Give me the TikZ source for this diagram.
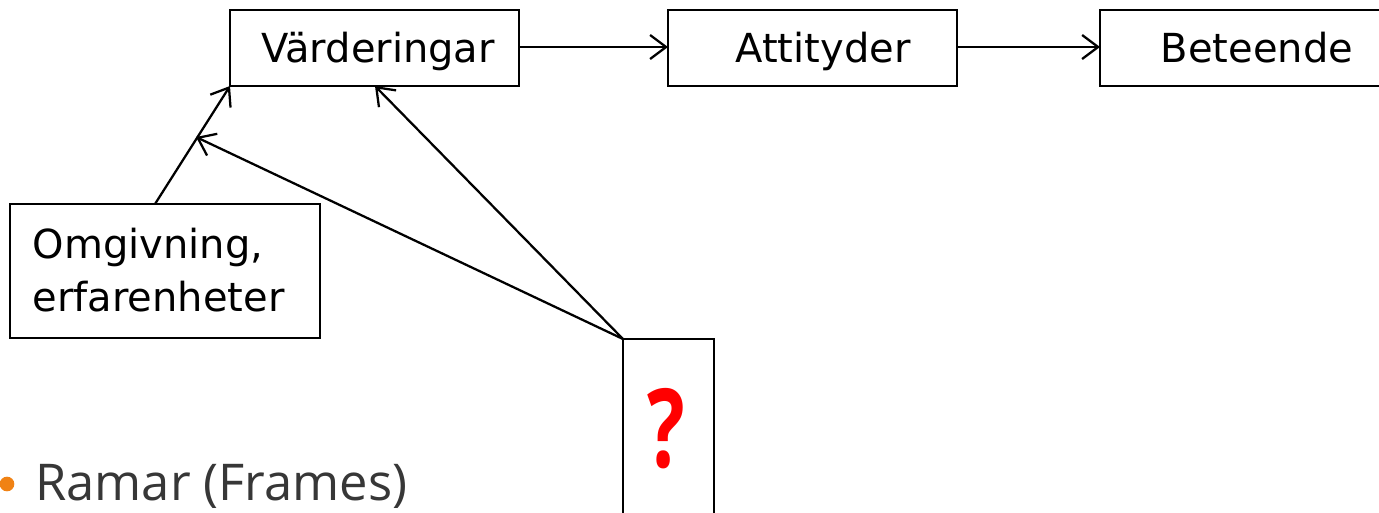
\documentclass[tikz,border=0pt]{standalone}
\usepackage{fontspec}
\setmainfont{DejaVu Sans}
\newfontfamily\bulletfont{Open Sans}
\usetikzlibrary{arrows.meta}
\definecolor{qred}{RGB}{255,0,0}
\definecolor{bulletorange}{RGB}{240,130,20}
\definecolor{textgray}{RGB}{55,55,55}
\begin{document}
\begin{tikzpicture}[x=0.75pt,y=-0.75pt,
  boxstyle/.style={draw=black,line width=1.7pt,inner sep=0pt},
  conn/.style={line width=1.7pt,-{Straight Barb[length=12pt,width=18pt]}},
  boxtext/.style={font=\fontsize{30}{38}\selectfont,anchor=base}]
\useasboundingbox (0,0) rectangle (1379,512);
\clip (0,0) rectangle (1379,512);
% boxes
\draw[boxstyle] (230,10) rectangle (519,86);
\coordinate (vL) at (230,86);
\coordinate (vB) at (375,86);
\coordinate (vR) at (519,47);
\node[boxtext] (vtext) at (378,62) {Värderingar};
\draw[boxstyle] (668,10) rectangle (957,86);
\coordinate (aL) at (668,47);
\coordinate (aR) at (957,47);
\node[boxtext] (atext) at (823,62) {Attityder};
\draw[boxstyle] (1100,10) rectangle (1395,86);
\coordinate (bL) at (1100,47);
\node[boxtext] (btext) at (1257,62) {Beteende};
\draw[boxstyle] (10,204) rectangle (320,338);
\coordinate (oT) at (155,204);
\node[boxtext,anchor=base west] (otext1) at (28,258) {Omgivning,};
\node[boxtext,anchor=base west] (otext2) at (28,311) {erfarenheter};
\draw[boxstyle] (623,339) rectangle (714,530);
\coordinate (qT) at (623,339);
\coordinate (mid) at (196,137);
\node[font=\bulletfont\bfseries\fontsize{82}{90}\selectfont,text=qred,anchor=base,xscale=0.72] (qmark) at (666,467) {?};
% connectors
\draw[conn] (vR) -- (aL);
\draw[conn] (aR) -- (bL);
\draw[conn] (oT) -- (vL);
\draw[conn] (qT) -- (mid);
\draw[conn] (qT) -- (vB);
% bullet
\fill[bulletorange] (7,484) circle[radius=5.5pt];
\node[font=\bulletfont\fontsize{38}{44}\selectfont,text=textgray,anchor=base west,inner sep=0pt] (ramar) at (35,500) {Ramar (Frames)};
\end{tikzpicture}
\end{document}
